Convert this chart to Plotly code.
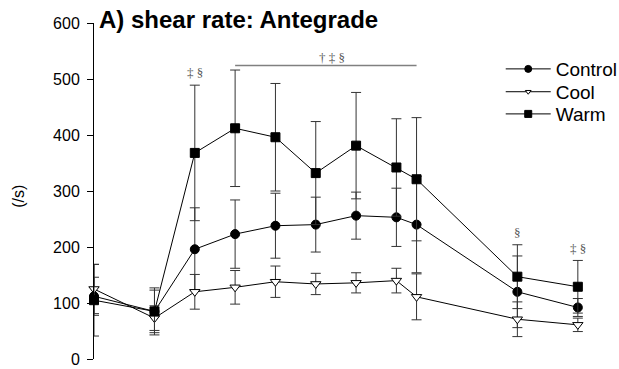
import plotly.graph_objects as go

# Sampling times (x positions of the measurements)
time_points = [0, 3, 5, 7, 9, 11, 13, 15, 16, 21, 24]

# Mean antegrade shear rate (/s) and SD for each condition
control_mean = [112, 85, 196, 223, 238, 240, 256, 253, 240, 120, 92]
control_sd = [34, 38, 74, 61, 58, 49, 42, 52, 86, 64, 16]

cool_mean = [125, 73, 120, 128, 138, 134, 136, 140, 111, 71, 61]
cool_sd = [44, 22, 31, 30, 28, 19, 18, 22, 41, 31, 12]

warm_mean = [105, 85, 368, 412, 396, 332, 381, 342, 321, 147, 129]
warm_sd = [64, 42, 121, 104, 96, 92, 95, 87, 110, 57, 47]

y_ticks = [0, 100, 200, 300, 400, 500, 600]

# Significance markers: (point index, symbol text)
sig_points = [(2, "\u2021 \u00a7"), (9, "\u00a7"), (10, "\u2021 \u00a7")]
# Bracket spanning a run of time points, with its label
sig_bracket_span = (3, 8)
sig_bracket_label = "\u2020 \u2021 \u00a7"
sig_bracket_level = 524

FONT = "Arial, Liberation Sans, sans-serif"
SERIF = "Times New Roman, Liberation Serif, serif"

fig = go.Figure()

series = [
    ("Control", control_mean, control_sd, "circle", 9, "black", 7, "legend", 0.863),
    ("Cool", cool_mean, cool_sd, "triangle-down", 9, "white", 5, "legend2", 0.795),
    ("Warm", warm_mean, warm_sd, "square", 9, "black", 7, "legend3", 0.729),
]

legend_layout = {}
for name, mean, sd, symbol, size, fill, key_size, leg, leg_y in series:
    fig.add_trace(go.Scatter(
        x=time_points, y=mean, name=name, mode="lines+markers",
        line=dict(color="black", width=1),
        marker=dict(symbol=symbol, size=size, color=fill,
                    line=dict(color="black", width=1)),
        error_y=dict(type="data", array=sd, visible=True,
                     color="#333333", thickness=1, width=5),
        cliponaxis=False, showlegend=False,
    ))
    # Legend key with a smaller symbol
    fig.add_trace(go.Scatter(
        x=[None], y=[None], name=name, mode="lines+markers",
        line=dict(color="black", width=1),
        marker=dict(symbol=symbol, size=key_size, color=fill,
                    line=dict(color="black", width=1)),
        legend=leg, showlegend=True,
    ))
    legend_layout[leg] = dict(
        x=0.807, y=leg_y, xanchor="left", yanchor="middle",
        font=dict(family=FONT, size=19, color="black"),
        bgcolor="rgba(0,0,0,0)", itemwidth=45, borderwidth=0,
    )

# Symbols above the upper error bar of selected points
for idx, txt in sig_points:
    top = max(control_mean[idx] + control_sd[idx],
              cool_mean[idx] + cool_sd[idx],
              warm_mean[idx] + warm_sd[idx])
    fig.add_annotation(x=time_points[idx], y=top + 22, text=txt,
                       showarrow=False, yanchor="middle",
                       font=dict(family=SERIF, size=13, color="#555555"))

# Bracket across the sustained-difference period
x0 = time_points[sig_bracket_span[0]]
x1 = time_points[sig_bracket_span[1]]
fig.add_shape(type="line", x0=x0, x1=x1, y0=sig_bracket_level,
              y1=sig_bracket_level, xref="x", yref="y",
              line=dict(color="#808080", width=1.5))
fig.add_annotation(x=(x0 + x1) / 2 + 0.3, y=sig_bracket_level + 15,
                   text=sig_bracket_label, showarrow=False,
                   font=dict(family=SERIF, size=13, color="#555555"))

# Panel title
fig.add_annotation(xref="paper", yref="paper", x=0.006, y=1.01,
                   xanchor="left", yanchor="middle",
                   text="<b>A) shear rate: Antegrade</b>", showarrow=False,
                   font=dict(family=FONT, size=24, color="black"))

# Y axis label
fig.add_annotation(xref="paper", yref="paper", x=-0.172, y=0.485,
                   text="(/s)", textangle=-90, showarrow=False,
                   font=dict(family=FONT, size=16, color="black"))

fig.update_layout(
    width=619, height=369,
    margin=dict(l=94, r=21, t=23, b=10, autoexpand=False),
    paper_bgcolor="white", plot_bgcolor="white",
    font=dict(family=FONT, color="black"),
    showlegend=True,
    xaxis=dict(range=[0, 25], visible=False, fixedrange=True),
    yaxis=dict(range=[0, 600], tickvals=y_ticks, ticks="outside",
               ticklen=6, tickwidth=1, tickcolor="black",
               ticklabelstandoff=4,
               showline=True, linecolor="black", linewidth=1,
               showgrid=False, zeroline=False,
               tickfont=dict(family=FONT, size=16, color="black")),
    **legend_layout,
)

fig.write_html("out.html")
